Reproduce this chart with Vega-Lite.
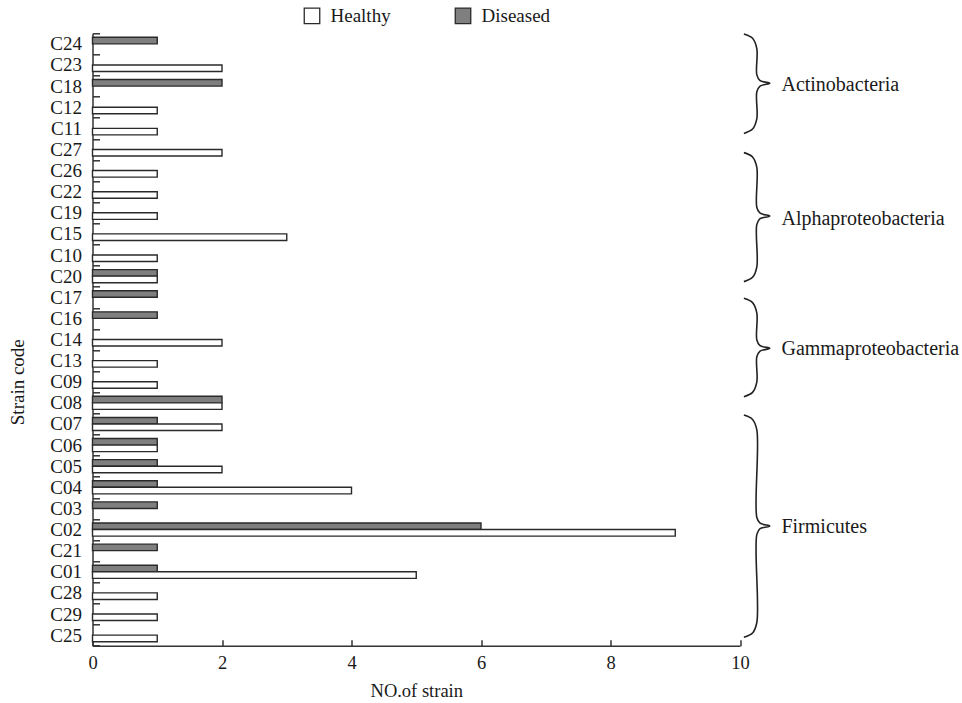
{
  "$schema": "https://vega.github.io/schema/vega-lite/v6.json",
  "autosize": {"type": "none"},
  "padding": {"left": 92.5, "top": 33.3, "right": 222, "bottom": 57.3},
  "width": 647.5,
  "height": 612.4,
  "background": "white",
  "config": {
    "view": {"stroke": null},
    "font": "Liberation Serif",
    "axis": {"labelFont": "Liberation Serif", "titleFont": "Liberation Serif", "labelColor": "#1a1a1a", "titleColor": "#1a1a1a", "titleFontWeight": "normal", "domainColor": "#333333", "tickColor": "#333333", "domainWidth": 1.5, "tickWidth": 1.5, "grid": false},
    "legend": {"labelFont": "Liberation Serif"}
  },
  "datasets": {
    "bars": [
      {"strain": "C24", "status": "Diseased", "n": 1},
      {"strain": "C23", "status": "Healthy", "n": 2},
      {"strain": "C18", "status": "Diseased", "n": 2},
      {"strain": "C12", "status": "Healthy", "n": 1},
      {"strain": "C11", "status": "Healthy", "n": 1},
      {"strain": "C27", "status": "Healthy", "n": 2},
      {"strain": "C26", "status": "Healthy", "n": 1},
      {"strain": "C22", "status": "Healthy", "n": 1},
      {"strain": "C19", "status": "Healthy", "n": 1},
      {"strain": "C15", "status": "Healthy", "n": 3},
      {"strain": "C10", "status": "Healthy", "n": 1},
      {"strain": "C20", "status": "Diseased", "n": 1},
      {"strain": "C20", "status": "Healthy", "n": 1},
      {"strain": "C17", "status": "Diseased", "n": 1},
      {"strain": "C16", "status": "Diseased", "n": 1},
      {"strain": "C14", "status": "Healthy", "n": 2},
      {"strain": "C13", "status": "Healthy", "n": 1},
      {"strain": "C09", "status": "Healthy", "n": 1},
      {"strain": "C08", "status": "Diseased", "n": 2},
      {"strain": "C08", "status": "Healthy", "n": 2},
      {"strain": "C07", "status": "Diseased", "n": 1},
      {"strain": "C07", "status": "Healthy", "n": 2},
      {"strain": "C06", "status": "Diseased", "n": 1},
      {"strain": "C06", "status": "Healthy", "n": 1},
      {"strain": "C05", "status": "Diseased", "n": 1},
      {"strain": "C05", "status": "Healthy", "n": 2},
      {"strain": "C04", "status": "Diseased", "n": 1},
      {"strain": "C04", "status": "Healthy", "n": 4},
      {"strain": "C03", "status": "Diseased", "n": 1},
      {"strain": "C02", "status": "Diseased", "n": 6},
      {"strain": "C02", "status": "Healthy", "n": 9},
      {"strain": "C21", "status": "Diseased", "n": 1},
      {"strain": "C01", "status": "Diseased", "n": 1},
      {"strain": "C01", "status": "Healthy", "n": 5},
      {"strain": "C28", "status": "Healthy", "n": 1},
      {"strain": "C29", "status": "Healthy", "n": 1},
      {"strain": "C25", "status": "Healthy", "n": 1}
    ],
    "braces": [
      {"grp": "A", "o": 1, "bx": 10.06, "by": 0.03},
      {"grp": "A", "o": 2, "bx": 10.194, "by": 0.235},
      {"grp": "A", "o": 3, "bx": 10.26, "by": 0.73},
      {"grp": "A", "o": 4, "bx": 10.26, "by": 1.97},
      {"grp": "A", "o": 5, "bx": 10.31, "by": 2.24},
      {"grp": "A", "o": 6, "bx": 10.46, "by": 2.37},
      {"grp": "A", "o": 7, "bx": 10.31, "by": 2.5},
      {"grp": "A", "o": 8, "bx": 10.26, "by": 2.77},
      {"grp": "A", "o": 9, "bx": 10.26, "by": 4.04},
      {"grp": "A", "o": 10, "bx": 10.194, "by": 4.535},
      {"grp": "A", "o": 11, "bx": 10.06, "by": 4.74},
      {"grp": "B", "o": 1, "bx": 10.06, "by": 5.65},
      {"grp": "B", "o": 2, "bx": 10.194, "by": 5.855},
      {"grp": "B", "o": 3, "bx": 10.26, "by": 6.35},
      {"grp": "B", "o": 4, "bx": 10.26, "by": 8.25},
      {"grp": "B", "o": 5, "bx": 10.31, "by": 8.52},
      {"grp": "B", "o": 6, "bx": 10.46, "by": 8.65},
      {"grp": "B", "o": 7, "bx": 10.31, "by": 8.78},
      {"grp": "B", "o": 8, "bx": 10.26, "by": 9.05},
      {"grp": "B", "o": 9, "bx": 10.26, "by": 11.06},
      {"grp": "B", "o": 10, "bx": 10.194, "by": 11.555},
      {"grp": "B", "o": 11, "bx": 10.06, "by": 11.76},
      {"grp": "C", "o": 1, "bx": 10.06, "by": 12.55},
      {"grp": "C", "o": 2, "bx": 10.194, "by": 12.755},
      {"grp": "C", "o": 3, "bx": 10.26, "by": 13.25},
      {"grp": "C", "o": 4, "bx": 10.26, "by": 14.52},
      {"grp": "C", "o": 5, "bx": 10.31, "by": 14.79},
      {"grp": "C", "o": 6, "bx": 10.46, "by": 14.92},
      {"grp": "C", "o": 7, "bx": 10.31, "by": 15.05},
      {"grp": "C", "o": 8, "bx": 10.26, "by": 15.32},
      {"grp": "C", "o": 9, "bx": 10.26, "by": 16.51},
      {"grp": "C", "o": 10, "bx": 10.194, "by": 17.005},
      {"grp": "C", "o": 11, "bx": 10.06, "by": 17.21},
      {"grp": "D", "o": 1, "bx": 10.06, "by": 18.08},
      {"grp": "D", "o": 2, "bx": 10.194, "by": 18.285},
      {"grp": "D", "o": 3, "bx": 10.26, "by": 18.78},
      {"grp": "D", "o": 4, "bx": 10.26, "by": 22.93},
      {"grp": "D", "o": 5, "bx": 10.31, "by": 23.2},
      {"grp": "D", "o": 6, "bx": 10.46, "by": 23.33},
      {"grp": "D", "o": 7, "bx": 10.31, "by": 23.46},
      {"grp": "D", "o": 8, "bx": 10.26, "by": 23.73},
      {"grp": "D", "o": 9, "bx": 10.26, "by": 27.9},
      {"grp": "D", "o": 10, "bx": 10.194, "by": 28.395},
      {"grp": "D", "o": 11, "bx": 10.06, "by": 28.6}
    ],
    "labels": [
      {"label": "Actinobacteria", "lx": 10.64, "ly": 2.47},
      {"label": "Alphaproteobacteria", "lx": 10.64, "ly": 8.8},
      {"label": "Gammaproteobacteria", "lx": 10.64, "ly": 14.97},
      {"label": "Firmicutes", "lx": 10.64, "ly": 23.38}
    ]
  },
  "layer": [
    {
      "data": {"name": "bars"},
      "mark": {"type": "bar", "stroke": "#2a2a2a", "strokeWidth": 1.4},
      "encoding": {
        "x": {"field": "n", "type": "quantitative", "scale": {"domain": [0, 10], "nice": false},
          "axis": {"values": [0, 2, 4, 6, 8, 10], "format": "d", "labelFlush": false, "title": "NO.of strain", "labelFontSize": 18.5, "titleFontSize": 18.5, "tickSize": -6, "labelPadding": 14, "titleY": 44.3, "titleBaseline": "middle"}},
        "y": {"field": "strain", "type": "nominal",
          "sort": ["C24","C23","C18","C12","C11","C27","C26","C22","C19","C15","C10","C20","C17","C16","C14","C13","C09","C08","C07","C06","C05","C04","C03","C02","C21","C01","C28","C29","C25"],
          "scale": {"paddingInner": 0, "paddingOuter": 0},
          "axis": {"title": "Strain code", "labelFontSize": 19, "titleFontSize": 19, "tickSize": -7, "tickBand": "extent", "labelPadding": 18, "titleX": -75.2, "titleY": 348.4, "titleBaseline": "middle", "titleAngle": -90}},
        "yOffset": {"field": "status", "type": "nominal", "sort": ["Diseased", "Healthy"], "scale": {"paddingInner": 0, "paddingOuter": 0.615}},
        "fill": {"field": "status", "type": "nominal",
          "scale": {"domain": ["Healthy", "Diseased"], "range": ["#ffffff", "#7f7f7f"]},
          "legend": {"title": null, "orient": "none", "direction": "horizontal", "legendX": 210, "legendY": -27, "symbolType": "square", "symbolSize": 240, "symbolStrokeColor": "#2a2a2a", "symbolStrokeWidth": 1.3, "labelFontSize": 19, "labelColor": "#1a1a1a", "labelOffset": 9, "columnPadding": 61}}
      }
    },
    {
      "data": {"name": "braces"},
      "mark": {"type": "line", "interpolate": "catmull-rom", "color": "#222222", "strokeWidth": 1.6, "clip": false},
      "encoding": {
        "x": {"field": "bx", "type": "quantitative", "scale": {"domain": [0, 10], "nice": false}},
        "y": {"field": "by", "type": "quantitative", "scale": {"domain": [0, 29], "nice": false, "zero": false, "reverse": true}, "axis": null},
        "detail": {"field": "grp", "type": "nominal"},
        "order": {"field": "o", "type": "quantitative"}
      }
    },
    {
      "data": {"name": "labels"},
      "mark": {"type": "text", "align": "left", "baseline": "middle", "fontSize": 20, "font": "Liberation Serif", "color": "#1a1a1a", "clip": false},
      "encoding": {
        "x": {"field": "lx", "type": "quantitative", "scale": {"domain": [0, 10], "nice": false}},
        "y": {"field": "ly", "type": "quantitative", "scale": {"domain": [0, 29], "nice": false, "zero": false, "reverse": true}, "axis": null},
        "text": {"field": "label", "type": "nominal"}
      }
    }
  ],
  "resolve": {"scale": {"y": "independent"}}
}
